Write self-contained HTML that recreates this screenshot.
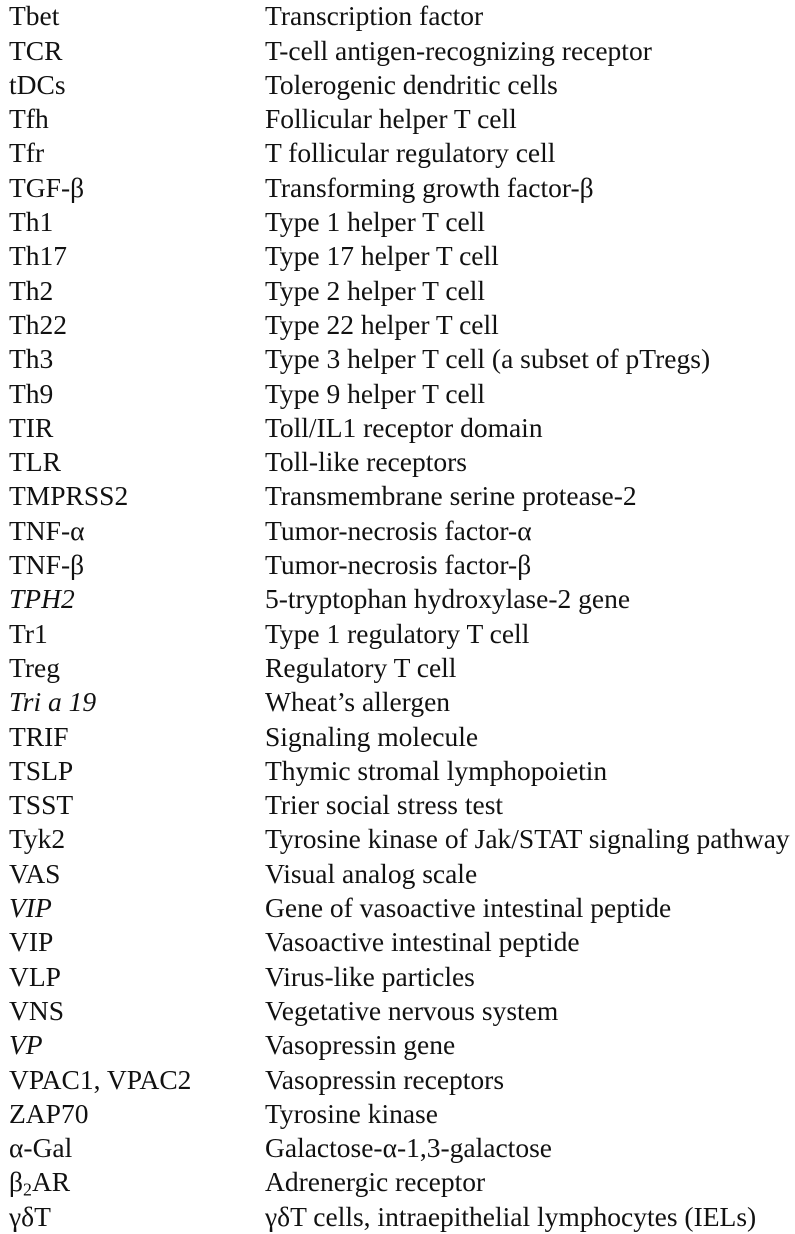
<!DOCTYPE html>
<html><head><meta charset="utf-8">
<style>
html,body{margin:0;padding:0;background:#fff;}
body{width:795px;height:1200px;overflow:hidden;position:relative;font-family:"Liberation Serif","DejaVu Serif",serif;font-size:27.5px;color:#111;}
.row{position:absolute;left:0;width:795px;height:34.3px;line-height:34.3px;white-space:nowrap;}
.a{position:absolute;left:9px;}
.d{position:absolute;left:265px;}
i{font-style:italic;}
sub{font-size:0.65em;vertical-align:-0.25em;line-height:0;}
</style></head>
<body>
<div id="list"></div>
<script>
const abbrs=["Tbet","TCR","tDCs","Tfh","Tfr","TGF-β","Th1","Th17","Th2","Th22","Th3","Th9","TIR","TLR","TMPRSS2","TNF-α","TNF-β","<i>TPH2</i>","Tr1","Treg","<i>Tri a 19</i>","TRIF","TSLP","TSST","Tyk2","VAS","<i>VIP</i>","VIP","VLP","VNS","<i>VP</i>","VPAC1, VPAC2","ZAP70","α-Gal","β<sub>2</sub>AR","γδT"];
const defs=["Transcription factor","T-cell antigen-recognizing receptor","Tolerogenic dendritic cells","Follicular helper T cell","T follicular regulatory cell","Transforming growth factor-β","Type 1 helper T cell","Type 17 helper T cell","Type 2 helper T cell","Type 22 helper T cell","Type 3 helper T cell (a subset of pTregs)","Type 9 helper T cell","Toll/IL1 receptor domain","Toll-like receptors","Transmembrane serine protease-2","Tumor-necrosis factor-α","Tumor-necrosis factor-β","5-tryptophan hydroxylase-2 gene","Type 1 regulatory T cell","Regulatory T cell","Wheat’s allergen","Signaling molecule","Thymic stromal lymphopoietin","Trier social stress test","Tyrosine kinase of Jak/STAT signaling pathway","Visual analog scale","Gene of vasoactive intestinal peptide","Vasoactive intestinal peptide","Virus-like particles","Vegetative nervous system","Vasopressin gene","Vasopressin receptors","Tyrosine kinase","Galactose-α-1,3-galactose","Adrenergic receptor","γδT cells, intraepithelial lymphocytes (IELs)"];
const list=document.getElementById('list');
abbrs.forEach((a,i)=>{
  const r=document.createElement('div');
  r.className='row';
  r.style.top=(i*34.3 - 0.8)+'px';
  
  
  const s=document.createElement('span');
  s.className='a';
  s.innerHTML=a;
  
  
  const d=document.createElement('span');
  d.className='d';
  d.textContent=defs[i];
  
  
  r.appendChild(s);r.appendChild(d);list.appendChild(r);
});
</script>
</body></html>
